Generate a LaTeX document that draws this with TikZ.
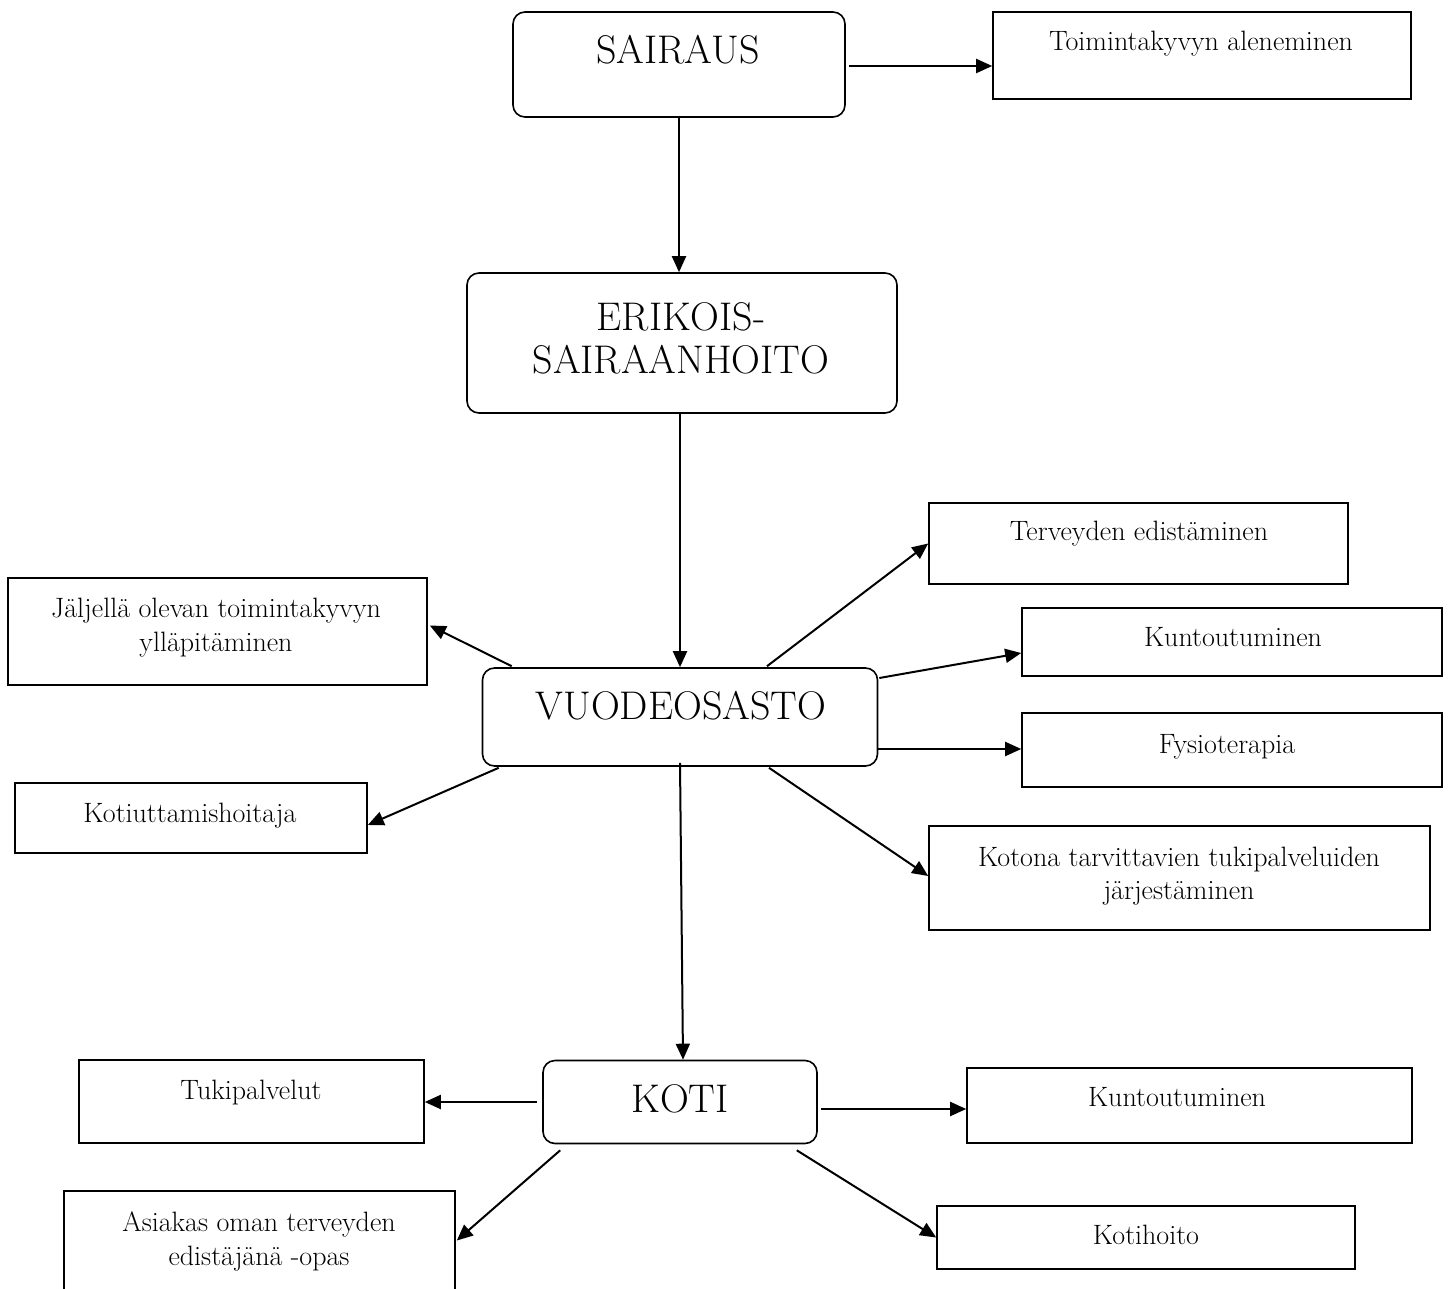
\documentclass[tikz,border=0pt]{standalone}
\usepackage{fontspec}
\usetikzlibrary{arrows.meta,calc}
\begin{document}
\begin{tikzpicture}[x=1pt,y=-1pt,
  rbox/.style={draw, line width=1.6pt, rounded corners=12pt, inner sep=0pt},
  sbox/.style={draw, line width=1.6pt, inner sep=0pt},
  big/.style={font=\fontsize{40}{48}\selectfont, anchor=base, inner sep=0pt},
  small/.style={font=\fontsize{28}{34}\selectfont, anchor=base, inner sep=0pt},
  arr/.style={line width=2pt, -{Triangle[length=16pt,width=14pt]}},
]
\useasboundingbox (0,0) rectangle (1450,1289);

% ---- boxes
\node[rbox, minimum width=332, minimum height=105] (sai)  at (679,64.5) {};
\node[sbox, minimum width=418, minimum height=87]  (toi)  at (1202,55.5) {};
\node[rbox, minimum width=430, minimum height=140] (eri)  at (682,343) {};
\node[rbox, minimum width=395, minimum height=98]  (vuo)  at (680,717) {};
\node[sbox, minimum width=419, minimum height=81]  (ter)  at (1138.5,543.5) {};
\node[sbox, minimum width=420, minimum height=68]  (kun)  at (1232,642) {};
\node[sbox, minimum width=420, minimum height=74]  (fys)  at (1232,750) {};
\node[sbox, minimum width=501, minimum height=104] (kot)  at (1179.5,878) {};
\node[sbox, minimum width=419, minimum height=107] (jal)  at (217.5,631.5) {};
\node[sbox, minimum width=352, minimum height=70]  (kti)  at (191,818) {};
\node[rbox, minimum width=274, minimum height=83]  (koti) at (680,1102) {};
\node[sbox, minimum width=345, minimum height=83]  (tuk)  at (251.5,1101.5) {};
\node[sbox, minimum width=445, minimum height=75]  (kun2) at (1189.5,1105.5) {};
\node[sbox, minimum width=391, minimum height=119] (asi)  at (259.5,1250.5) {};
\node[sbox, minimum width=418, minimum height=63]  (koh)  at (1146,1237.5) {};

% ---- texts
\node[big]   (saiT)  at (678,64)  {SAIRAUS};
\node[small] (toiT)  at (1201,51) {Toimintakyvyn aleneminen};
\node[big]   (eriT1) at (681,330) {ERIKOIS-};
\node[big]   (eriT2) at (681,373) {SAIRAANHOITO};
\node[big]   (vuoT)  at (681,719) {VUODEOSASTO};
\node[small] (terT)  at (1139,540) {Terveyden edistäminen};
\node[small] (kunT)  at (1233,646) {Kuntoutuminen};
\node[small] (fysT)  at (1227,753) {Fysioterapia};
\node[small] (kotT1) at (1179,866) {Kotona tarvittavien tukipalveluiden};
\node[small] (kotT2) at (1179,899) {järjestäminen};
\node[small] (jalT1) at (216,617) {Jäljellä olevan toimintakyvyn};
\node[small] (jalT2) at (216,651) {ylläpitäminen};
\node[small] (ktiT)  at (190,822) {Kotiuttamishoitaja};
\node[big]   (kotiT) at (680,1112) {KOTI};
\node[small] (tukT)  at (251,1099) {Tukipalvelut};
\node[small] (kun2T) at (1177,1106) {Kuntoutuminen};
\node[small] (asiT1) at (259,1231) {Asiakas oman terveyden};
\node[small] (asiT2) at (259,1265) {edistäjänä -opas};
\node[small] (kohT)  at (1146,1244) {Kotihoito};

% ---- connector start points
\coordinate (s1) at ($(sai.east)+(3,1.5)$);
\coordinate (s2) at ($(vuo.north)+(87,-1)$);
\coordinate (s3) at ($(vuo.east)+(1,-39)$);
\coordinate (s4) at ($(vuo.east)+(-1,32)$);
\coordinate (s5) at ($(vuo.south)+(89,1)$);
\coordinate (s6) at ($(vuo.north west)+(30,-1)$);
\coordinate (s7) at ($(vuo.south west)+(17,1)$);
\coordinate (s8) at ($(vuo.south)+(0,-4)$);
\coordinate (s9) at ($(koti.west)+(-5,0)$);
\coordinate (s10) at ($(koti.east)+(3,7)$);
\coordinate (s11) at ($(koti.south west)+(18,6)$);
\coordinate (s12) at ($(koti.south east)+(-21,6)$);

% ---- connectors
\draw[arr] (s1) -- (s1 -| toi.west);
\draw[arr] (sai.south) -- (sai.south |- eri.north);
\draw[arr] (vuo.north |- eri.south) -- (vuo.north);
\draw[arr] (s2) -- (ter.west);
\draw[arr] (s3) -- ($(kun.west)+(0,11)$);
\draw[arr] (s4) -- (s4 -| fys.west);
\draw[arr] (s5) -- ($(kot.west)+(0,-2)$);
\draw[arr] (s6) -- ($(jal.east)+(2,-6)$);
\draw[arr] (s7) -- ($(kti.east)+(0,7)$);
\draw[arr] (s8) -- ($(koti.north)+(3,0)$);
\draw[arr] (s9) -- (s9 -| tuk.east);
\draw[arr] (s10) -- (s10 -| kun2.west);
\draw[arr] (s11) -- ($(asi.east)+(1,-10)$);
\draw[arr] (s12) -- (koh.west);
\end{tikzpicture}
\end{document}
